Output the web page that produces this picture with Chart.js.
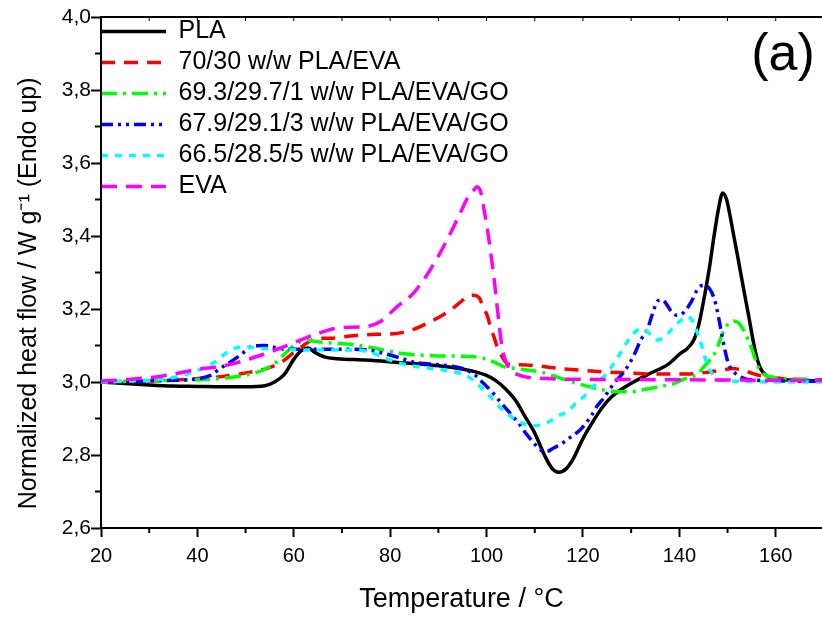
<!DOCTYPE html>
<html><head><meta charset="utf-8">
<script src="https://cdn.jsdelivr.net/npm/chart.js@4.4.1/dist/chart.umd.min.js"></script>
<style>html,body{margin:0;padding:0;background:#fff;} canvas{display:block;}</style>
</head><body>
<canvas id="c" width="822" height="619"></canvas>
<script>
// ---------- data ----------
const seriesNames = ['PLA', '70/30 w/w PLA/EVA', '69.3/29.7/1 w/w PLA/EVA/GO', '67.9/29.1/3 w/w PLA/EVA/GO', '66.5/28.5/5 w/w PLA/EVA/GO', 'EVA'];

const plaT = [20, 25, 30, 35, 40, 45, 50, 54, 56, 58, 60, 61.5, 62.9, 64.5, 66.5, 69, 75, 82, 88, 93, 97, 100, 102, 104, 106, 108, 110, 112, 113.5, 115, 116.5, 118, 120, 122, 124, 126, 128, 130.5, 134, 137.5, 140.3, 141.5, 143, 144, 145, 146.2, 147.2, 148.2, 149, 149.8, 150.6, 151.3, 152.3, 153.4, 154.4, 155.4, 156.2, 157, 158, 159, 161, 164, 169.6];
const plaH = [3.0, 2.996, 2.992, 2.989, 2.988, 2.987, 2.987, 2.99, 3.0, 3.02, 3.062, 3.085, 3.093, 3.08, 3.068, 3.064, 3.06, 3.053, 3.047, 3.04, 3.03, 3.018, 3.003, 2.98, 2.95, 2.905, 2.86, 2.80, 2.765, 2.753, 2.762, 2.79, 2.845, 2.89, 2.93, 2.96, 2.98, 3.0, 3.024, 3.047, 3.079, 3.09, 3.115, 3.155, 3.22, 3.31, 3.40, 3.48, 3.518, 3.50, 3.45, 3.40, 3.33, 3.25, 3.18, 3.107, 3.06, 3.033, 3.018, 3.011, 3.007, 3.005, 3.003];

const redT = [20, 28, 35, 41, 46.3, 51, 54.6, 57.5, 60.2, 62, 63.7, 66, 68.1, 70.6, 74.5, 78, 81.4, 85, 88.3, 90.5, 92.5, 94.5, 96, 97.3, 98.5, 99.3, 100.2, 100.8, 101.5, 102.2, 103.2, 104.2, 105.5, 107, 110, 115.3, 120, 124.3, 129, 134, 141.7, 146, 149.2, 151, 153.4, 156, 159, 163, 169.6];
const redH = [3.0, 3.002, 3.005, 3.01, 3.017, 3.027, 3.038, 3.055, 3.083, 3.1, 3.115, 3.12, 3.12, 3.124, 3.129, 3.131, 3.133, 3.145, 3.165, 3.18, 3.197, 3.218, 3.234, 3.238, 3.23, 3.206, 3.18, 3.152, 3.125, 3.097, 3.07, 3.051, 3.047, 3.047, 3.045, 3.037, 3.032, 3.028, 3.025, 3.022, 3.022, 3.027, 3.033, 3.037, 3.031, 3.02, 3.013, 3.008, 3.006];

const greenT = [20, 29, 35, 41.5, 48.4, 52, 54, 56, 57.5, 59, 60.2, 61.3, 62.5, 65, 68, 71, 75, 78.5, 82, 86, 89, 93, 96, 99, 101.5, 103.5, 106, 108.4, 111, 115, 118.8, 122, 125.5, 128.5, 131, 133, 135, 137, 139, 141, 142.5, 143.7, 145, 146.2, 147.2, 148.2, 149.2, 150.2, 151.3, 152.4, 153.4, 154.3, 155.2, 156.2, 157.2, 158.3, 160.5, 164, 169.6];
const greenH = [3.0, 3.003, 3.005, 3.007, 3.015, 3.025, 3.035, 3.05, 3.069, 3.088, 3.101, 3.11, 3.115, 3.11, 3.107, 3.104, 3.097, 3.088, 3.079, 3.074, 3.072, 3.071, 3.07, 3.066, 3.055, 3.042, 3.037, 3.033, 3.028, 3.012, 2.996, 2.985, 2.975, 2.973, 2.975, 2.98, 2.985, 2.99, 2.996, 3.008, 3.015, 3.02, 3.04, 3.058, 3.075, 3.105, 3.14, 3.16, 3.167, 3.16, 3.14, 3.115, 3.085, 3.045, 3.025, 3.016, 3.011, 3.008, 3.006];

const blueT = [20, 32.5, 40.1, 42.9, 44.5, 46.4, 48.4, 50, 51.5, 54, 58, 64, 70, 75.2, 78.5, 82, 85.5, 90.4, 95, 97.5, 99.4, 101, 102.5, 104.5, 106.5, 108.4, 110, 111.2, 112.5, 114, 115.5, 117, 119.5, 121.6, 123, 124.3, 126.4, 128.8, 130.6, 132, 133.4, 134.5, 135.5, 136.5, 137.5, 138.5, 139.5, 140.5, 141.5, 142.5, 143.8, 145, 146.3, 147.2, 147.9, 148.5, 149.3, 150.2, 151.5, 153.4, 156, 160, 169.6];
const blueH = [3.0, 3.004, 3.009, 3.019, 3.035, 3.051, 3.069, 3.085, 3.099, 3.1, 3.09, 3.09, 3.09, 3.088, 3.079, 3.066, 3.053, 3.047, 3.037, 3.02, 2.996, 2.975, 2.951, 2.92, 2.89, 2.855, 2.83, 2.814, 2.81, 2.82, 2.83, 2.845, 2.87, 2.905, 2.935, 2.956, 2.996, 3.033, 3.074, 3.115, 3.145, 3.19, 3.222, 3.225, 3.21, 3.19, 3.183, 3.186, 3.2, 3.22, 3.255, 3.265, 3.255, 3.23, 3.193, 3.152, 3.097, 3.05, 3.025, 3.01, 3.005, 3.003, 3.002];

const cyanT = [20, 25.5, 32.5, 36, 39, 41.5, 43, 44.3, 45.5, 46.7, 48.5, 50.5, 53, 57, 62, 68.2, 73.1, 76.6, 80, 83.5, 87.7, 91, 94.5, 96.5, 98, 99.7, 101.4, 102.8, 104.2, 105.6, 107, 108.4, 110, 111.9, 113.5, 115.3, 116.8, 118.8, 120.2, 122.1, 123.5, 125, 127.1, 129.2, 131.3, 132.6, 134, 135.5, 137, 138.5, 140, 141.5, 142.6, 143.8, 144.8, 145.8, 147, 148.5, 152, 160, 169.6];
const cyanH = [3.0, 3.003, 3.007, 3.015, 3.027, 3.04, 3.05, 3.06, 3.075, 3.085, 3.095, 3.096, 3.092, 3.09, 3.088, 3.088, 3.088, 3.078, 3.06, 3.047, 3.038, 3.033, 3.024, 3.012, 2.996, 2.975, 2.951, 2.93, 2.915, 2.90, 2.89, 2.882, 2.88, 2.886, 2.895, 2.91, 2.919, 2.946, 2.96, 2.987, 3.005, 3.024, 3.065, 3.11, 3.142, 3.145, 3.13, 3.115, 3.125, 3.145, 3.165, 3.179, 3.17, 3.133, 3.092, 3.047, 3.02, 3.005, 3.002, 3.0, 3.0];

const evaT = [20, 25.6, 32.5, 39.4, 46.4, 53.3, 58.8, 65, 69.9, 74.5, 77.9, 81.4, 84.8, 88.3, 91.8, 94.5, 96.3, 97.3, 98, 98.8, 99.5, 100.1, 100.8, 101.5, 102.2, 103.2, 104.2, 105, 106.5, 108.5, 111, 115, 125, 140, 155, 169.6];
const evaH = [3.003, 3.007, 3.016, 3.033, 3.047, 3.074, 3.101, 3.133, 3.149, 3.151, 3.165, 3.206, 3.243, 3.307, 3.389, 3.462, 3.51, 3.525, 3.535, 3.52, 3.47, 3.425, 3.36, 3.29, 3.206, 3.097, 3.05, 3.033, 3.02, 3.013, 3.01, 3.008, 3.007, 3.006, 3.005, 3.004];

const xTickValues = [20, 40, 60, 80, 100, 120, 140, 160];
const xMinorTickValues = [30, 50, 70, 90, 110, 130, 150];
const topTickValues = [30, 40, 50, 60, 70, 80, 90, 100, 110, 120, 130, 140, 150, 160];
const yTickValues = [2.6, 2.8, 3.0, 3.2, 3.4, 3.6, 3.8, 4.0];
const yMinorTickValues = [2.7, 2.9, 3.1, 3.3, 3.5, 3.7, 3.9];

// ---------- styles ----------
const FONT = "'Liberation Sans', Arial, Helvetica, sans-serif";
Chart.defaults.font.family = FONT;
Chart.defaults.color = '#000';

function pts(T, H) { return T.map((t, i) => ({ x: t, y: H[i] })); }

const styles = [
  { color: '#000000', dash: [], width: 3.5 },
  { color: '#ff0000', dash: [14, 9], width: 3.5 },
  { color: '#00ff00', dash: [16, 6, 3, 6], width: 3.5 },
  { color: '#0000ff', dash: [12, 5, 3, 5, 3, 5], width: 3.5 },
  { color: '#00ffff', dash: [7, 7], width: 3.5 },
  { color: '#ff00ff', dash: [16, 9], width: 3.5 }
];
const seriesData = [pts(plaT, plaH), pts(redT, redH), pts(greenT, greenH), pts(blueT, blueH), pts(cyanT, cyanH), pts(evaT, evaH)];

const datasets = seriesNames.map((name, i) => ({
  label: name,
  data: seriesData[i],
  borderColor: styles[i].color,
  backgroundColor: styles[i].color,
  borderDash: styles[i].dash,
  borderWidth: styles[i].width,
  pointRadius: 0,
  cubicInterpolationMode: 'monotone',
  fill: false,
  order: seriesNames.length - i
}));

const extrasPlugin = {
  id: 'extras',
  afterLayout(chart) {
    const l = chart.legend;
    if (l) { l.left -= 6; l.right -= 6; l.top += 13; l.bottom += 13; }
  },
  afterDraw(chart) {
    const ctx = chart.ctx;
    const xs = chart.scales.x, ys = chart.scales.y;
    const ca = chart.chartArea;
    ctx.save();
    ctx.strokeStyle = '#000';
    ctx.lineWidth = 2;
    ctx.beginPath();
    xMinorTickValues.forEach(v => {
      const px = xs.getPixelForValue(v);
      ctx.moveTo(px, ca.bottom); ctx.lineTo(px, ca.bottom + 5);
    });
    yMinorTickValues.forEach(v => {
      const py = ys.getPixelForValue(v);
      ctx.moveTo(ca.left, py); ctx.lineTo(ca.left - 6, py);
    });
    ctx.stroke();
    ctx.beginPath();
    ctx.moveTo(ca.left - 1, ca.top); ctx.lineTo(ca.right, ca.top);
    ctx.stroke();
    ctx.lineWidth = 1;
    ctx.beginPath();
    topTickValues.forEach(v => {
      const px = xs.getPixelForValue(v);
      ctx.moveTo(px, ca.top); ctx.lineTo(px, ca.top + 4);
    });
    ctx.stroke();
    ctx.fillStyle = '#000';
    ctx.font = '52px ' + FONT;
    ctx.textAlign = 'center';
    ctx.textBaseline = 'alphabetic';
    ctx.fillText('(a)', ca.right - 39, ca.top + 53);
    ctx.restore();
  }
};

new Chart(document.getElementById('c'), {
  type: 'line',
  data: { datasets },
  plugins: [extrasPlugin],
  options: {
    responsive: false,
    animation: false,
    devicePixelRatio: 1,
    layout: { padding: { top: 17, right: 0, left: 0, bottom: 0 } },
    plugins: {
      tooltip: { enabled: false },
      legend: {
        position: 'chartArea',
        align: 'start',
        labels: {
          usePointStyle: true,
          pointStyle: 'line',
          pointStyleWidth: 65,
          boxHeight: 25,
          padding: 6,
          color: '#000',
          font: { size: 25, family: FONT },
          sort: (a, b) => a.datasetIndex - b.datasetIndex,
          generateLabels: (chart) => {
            const items = Chart.defaults.plugins.legend.labels.generateLabels(chart);
            items.forEach(it => {
              const ds = chart.data.datasets[it.datasetIndex];
              it.lineDash = ds.borderDash;
              it.lineWidth = ds.borderWidth;
              it.strokeStyle = ds.borderColor;
              it.fillStyle = ds.borderColor;
              it.pointStyle = 'line';
            });
            return items;
          }
        }
      }
    },
    scales: {
      x: {
        type: 'linear',
        min: 20,
        max: 169.6,
        afterBuildTicks: (s) => { s.ticks = xTickValues.map(v => ({ value: v })); },
        afterFit: (s) => { s.height = 91; },
        border: { display: true, color: '#000', width: 2 },
        grid: { display: true, drawOnChartArea: false, drawTicks: true, tickLength: 9, tickWidth: 2, tickColor: '#000' },
        ticks: { font: { size: 20 }, color: '#000', padding: 7, maxRotation: 0, autoSkip: false, callback: (v) => String(v) },
        title: { display: true, text: 'Temperature / °C', font: { size: 27 }, color: '#000', padding: { top: 0, bottom: 3 } }
      },
      y: {
        type: 'linear',
        min: 2.6,
        max: 4.0,
        afterBuildTicks: (s) => { s.ticks = yTickValues.map(v => ({ value: v })); },
        afterFit: (s) => { s.width = 101; },
        border: { display: true, color: '#000', width: 2 },
        grid: { display: true, drawOnChartArea: false, drawTicks: true, tickLength: 10, tickWidth: 2, tickColor: '#000' },
        ticks: { font: { size: 21 }, color: '#000', padding: 0, autoSkip: false, callback: (v) => Number(v).toFixed(1).replace('.', ',') },
        title: { display: true, text: 'Normalized heat flow / W g\u207B\u00B9 (Endo up)      ', font: { size: 25 }, color: '#000', padding: { top: 14, bottom: 0 } }
      }
    }
  }
});
</script>
</body></html>
